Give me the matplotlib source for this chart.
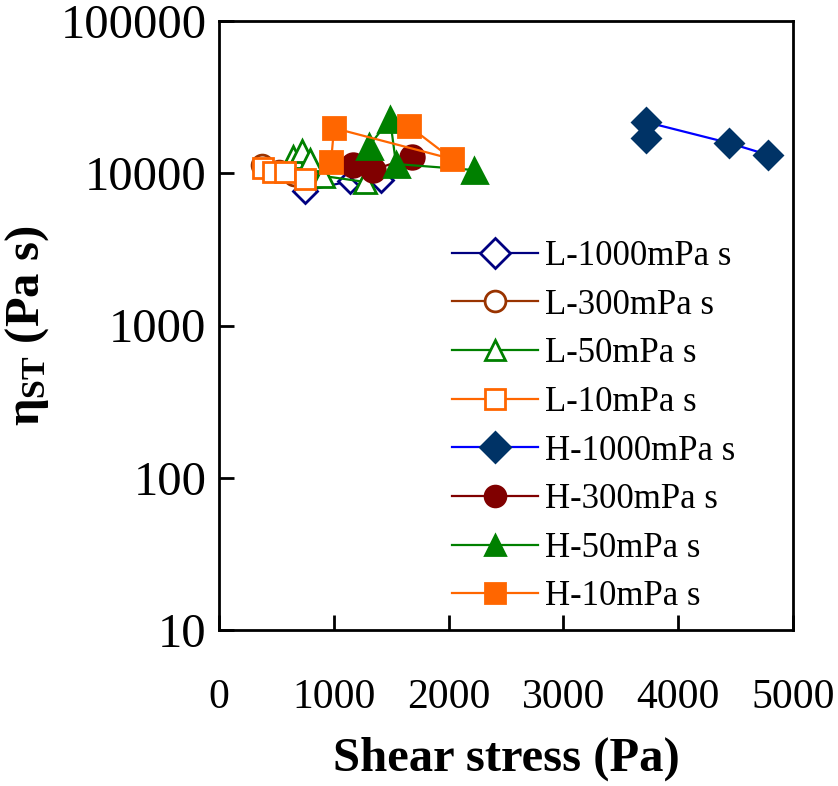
import matplotlib
matplotlib.use("Agg")
import matplotlib.pyplot as plt

# shear stress (Pa) and eta_ST (Pa s)
l1000_x = [749, 1141, 1250, 1411]
l1000_y = [7640, 8890, 9300, 9000]
l300_x = [374, 520, 650, 770]
l300_y = [11300, 10300, 9800, 9400]
l50_x = [645, 723, 790, 906, 1272]
l50_y = [12800, 14000, 12300, 9600, 8770]
l10_x = [383, 470, 575, 749]
l10_y = [10800, 10200, 10200, 9160]
h1000_x = [3720, 3720, 4443, 4782]
h1000_y = [17000, 21700, 15800, 13200]
h300_x = [1167, 1341, 1681]
h300_y = [11300, 10500, 12800]
h50_x = [1307, 1490, 1542, 2221]
h50_y = [15100, 22700, 11500, 10500]
h10_x = [976, 1002, 2030, 1655]
h10_y = [11900, 19800, 12400, 20400]

x_ticks = [0, 1000, 2000, 3000, 4000, 5000]
y_ticks = [10, 100, 1000, 10000, 100000]

plt.rcParams['font.family'] = ['Liberation Serif', 'DejaVu Serif']
plt.rcParams['mathtext.fontset'] = 'custom'
plt.rcParams['mathtext.rm'] = 'Liberation Serif'
plt.rcParams['mathtext.bf'] = 'Liberation Serif:bold'
plt.rcParams['mathtext.it'] = 'Liberation Serif:italic'

fig = plt.figure(figsize=(8.38, 7.86), dpi=100)
ax = fig.add_axes([219 / 838, 1 - 630 / 786, (793 - 219) / 838, (630 - 21) / 786])

series = [
    (l1000_x, l1000_y, 'L-1000mPa s', 'D', '#000080', 'white', '#000080', 12),
    (l300_x, l300_y, 'L-300mPa s', 'o', '#993300', 'white', '#993300', 15),
    (l50_x, l50_y, 'L-50mPa s', '^', '#008000', 'white', '#008000', 16),
    (l10_x, l10_y, 'L-10mPa s', 's', '#FF6600', 'white', '#FF6600', 14),
    (h1000_x, h1000_y, 'H-1000mPa s', 'D', '#003366', '#003366', '#0000FF', 14),
    (h300_x, h300_y, 'H-300mPa s', 'o', '#800000', '#800000', '#800000', 17),
    (h50_x, h50_y, 'H-50mPa s', '^', '#008000', '#008000', '#008000', 18),
    (h10_x, h10_y, 'H-10mPa s', 's', '#FF6600', '#FF6600', '#FF6600', 16),
]

for xs, ys, label, mk, mec, mfc, lc, ms in series:
    ax.plot(xs, ys, color=lc, lw=1.6, marker=mk, ms=ms, mec=mec, mfc=mfc,
            mew=2, label=label)

ax.set_yscale('log')
ax.set_xlim(0, 5000)
ax.set_ylim(10, 100000)
ax.set_xticks(x_ticks)
ax.set_xticklabels([str(v) for v in x_ticks])
ax.set_yticks(y_ticks)
ax.set_yticklabels([str(v) for v in y_ticks])
ax.yaxis.set_minor_locator(matplotlib.ticker.NullLocator())
ax.tick_params(axis='x', direction='in', length=11, width=2, labelsize=30, pad=35)
ax.tick_params(axis='y', direction='in', length=11, width=2, labelsize=35, pad=9)
for sp in ax.spines.values():
    sp.set_linewidth(2)

ax.set_xlabel('Shear stress (Pa)', fontsize=35, fontweight='bold', labelpad=14)
ax.set_ylabel(r'$\mathbf{\eta_{ST}}$ (Pa s)', fontsize=35, fontweight='bold', labelpad=7)

leg = ax.legend(loc='upper left', bbox_to_anchor=(452 / 838, 1 - 240 / 786),
                bbox_transform=fig.transFigure, frameon=False, fontsize=25,
                handlelength=2.48, handletextpad=0.2, labelspacing=0.45,
                borderpad=0, borderaxespad=0)
for h in leg.legend_handles:
    h.set_markersize(15)

fig.savefig('out.png', dpi=100)
